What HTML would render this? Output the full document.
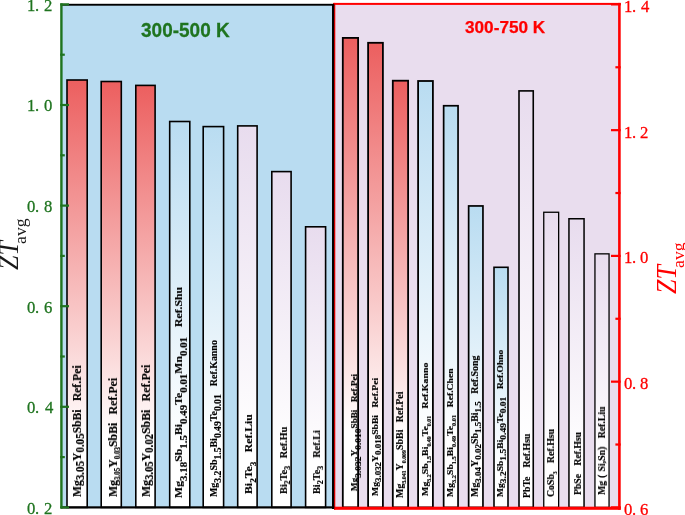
<!DOCTYPE html>
<html><head><meta charset="utf-8"><style>
html,body{margin:0;padding:0;background:#fff}
body{width:685px;height:515px;overflow:hidden;position:relative}
.a{position:absolute;will-change:transform}
.tl{font-family:"Liberation Serif",serif;font-size:17.2px;line-height:17px;white-space:nowrap;width:30px;height:17px;-webkit-text-stroke:0.3px}
.tl span{position:absolute;top:0;transform:scaleX(0.97);transform-origin:0 0}
.tt{font-family:"Liberation Sans",sans-serif;font-weight:bold;white-space:nowrap;line-height:1;-webkit-text-stroke:0.25px}
.yt{font-family:"Liberation Serif",serif;font-size:28.5px;line-height:26px;white-space:nowrap;transform-origin:0 0;transform:rotate(-90deg)}
.yt i{display:inline-block;transform:scaleX(0.91);transform-origin:0 0}
.yt .avg{font-size:17.6px;position:relative;top:7.5px;margin-left:-5.6px}
.lb{font-family:"Liberation Serif",serif;font-weight:bold;white-space:nowrap;transform-origin:0 0;color:#000;-webkit-text-stroke:0.2px #000}
</style></head><body>
<svg class="a" style="left:0;top:0" width="685" height="515" viewBox="0 0 685 515"><defs><linearGradient id="gr" x1="0" y1="0" x2="0" y2="1"><stop offset="0" stop-color="#ec5f5f"/><stop offset="0.84" stop-color="#fff"/></linearGradient><linearGradient id="gb" x1="0" y1="0" x2="0" y2="1"><stop offset="0" stop-color="#b9dcf1"/><stop offset="0.84" stop-color="#fff"/></linearGradient><linearGradient id="gl" x1="0" y1="0" x2="0" y2="1"><stop offset="0" stop-color="#e8dcee"/><stop offset="0.84" stop-color="#fff"/></linearGradient></defs><rect x="62" y="5" width="271" height="502" fill="#b9dcf1"/><rect x="334" y="4" width="285" height="503" fill="#e9ddee"/><rect x="67.00" y="80.00" width="20.20" height="427.40" fill="url(#gr)" stroke="#000" stroke-width="1.6"/><rect x="101.20" y="81.50" width="20.10" height="425.90" fill="url(#gr)" stroke="#000" stroke-width="1.6"/><rect x="135.80" y="85.40" width="19.30" height="422.00" fill="url(#gr)" stroke="#000" stroke-width="1.6"/><rect x="169.70" y="121.50" width="20.10" height="385.90" fill="url(#gb)" stroke="#000" stroke-width="1.6"/><rect x="203.20" y="126.60" width="20.40" height="380.80" fill="url(#gb)" stroke="#000" stroke-width="1.6"/><rect x="237.70" y="125.90" width="19.40" height="381.50" fill="url(#gl)" stroke="#000" stroke-width="1.6"/><rect x="271.80" y="171.60" width="19.30" height="335.80" fill="url(#gl)" stroke="#000" stroke-width="1.6"/><rect x="305.60" y="226.80" width="20.00" height="280.60" fill="url(#gl)" stroke="#000" stroke-width="1.6"/><rect x="342.80" y="37.90" width="15.30" height="469.50" fill="url(#gr)" stroke="#000" stroke-width="1.8"/><rect x="368.10" y="42.80" width="14.80" height="464.60" fill="url(#gr)" stroke="#000" stroke-width="1.8"/><rect x="392.80" y="80.70" width="15.30" height="426.70" fill="url(#gr)" stroke="#000" stroke-width="1.8"/><rect x="418.10" y="81.00" width="14.80" height="426.40" fill="url(#gb)" stroke="#000" stroke-width="1.8"/><rect x="443.65" y="105.75" width="14.40" height="401.65" fill="url(#gb)" stroke="#000" stroke-width="1.7"/><rect x="468.65" y="205.95" width="14.30" height="301.45" fill="url(#gb)" stroke="#000" stroke-width="1.7"/><rect x="494.00" y="267.30" width="14.00" height="240.10" fill="url(#gb)" stroke="#000" stroke-width="1.6"/><rect x="519.00" y="90.90" width="14.25" height="416.50" fill="url(#gl)" stroke="#000" stroke-width="1.6"/><rect x="543.75" y="212.25" width="14.90" height="295.15" fill="url(#gl)" stroke="#000" stroke-width="1.3"/><rect x="568.95" y="218.75" width="15.10" height="288.65" fill="url(#gl)" stroke="#000" stroke-width="1.5"/><rect x="594.95" y="253.85" width="14.10" height="253.55" fill="url(#gl)" stroke="#000" stroke-width="1.3"/><rect x="333.00" y="2.90" width="287.70" height="2.00" fill="#ff0000"/><rect x="618.10" y="2.90" width="2.60" height="506.90" fill="#ff0000"/><rect x="334.00" y="506.70" width="286.70" height="3.10" fill="#ff0000"/><rect x="334.00" y="2.90" width="1.30" height="506.90" fill="#ff0000"/><rect x="61.00" y="3.80" width="273.20" height="1.90" fill="#000"/><rect x="61.00" y="506.30" width="273.20" height="2.20" fill="#000"/><rect x="332.00" y="4.00" width="2.20" height="505.00" fill="#000"/><rect x="60.20" y="3.40" width="2.40" height="505.20" fill="#1f741f"/><rect x="60.20" y="506.30" width="8.80" height="2.20" fill="#1f741f"/><rect x="60.20" y="456.00" width="4.60" height="2.20" fill="#1f741f"/><rect x="60.20" y="405.70" width="8.80" height="2.20" fill="#1f741f"/><rect x="60.20" y="355.40" width="4.60" height="2.20" fill="#1f741f"/><rect x="60.20" y="305.10" width="8.80" height="2.20" fill="#1f741f"/><rect x="60.20" y="254.80" width="4.60" height="2.20" fill="#1f741f"/><rect x="60.20" y="204.50" width="8.80" height="2.20" fill="#1f741f"/><rect x="60.20" y="154.20" width="4.60" height="2.20" fill="#1f741f"/><rect x="60.20" y="103.90" width="8.80" height="2.20" fill="#1f741f"/><rect x="60.20" y="53.60" width="4.60" height="2.20" fill="#1f741f"/><rect x="60.20" y="3.30" width="8.80" height="2.20" fill="#1f741f"/><rect x="611.00" y="506.30" width="9.70" height="2.20" fill="#ff0000"/><rect x="615.40" y="443.42" width="5.30" height="2.20" fill="#ff0000"/><rect x="611.00" y="380.55" width="9.70" height="2.20" fill="#ff0000"/><rect x="615.40" y="317.67" width="5.30" height="2.20" fill="#ff0000"/><rect x="611.00" y="254.80" width="9.70" height="2.20" fill="#ff0000"/><rect x="615.40" y="191.92" width="5.30" height="2.20" fill="#ff0000"/><rect x="611.00" y="129.05" width="9.70" height="2.20" fill="#ff0000"/><rect x="615.40" y="66.17" width="5.30" height="2.20" fill="#ff0000"/><rect x="611.00" y="3.30" width="9.70" height="2.20" fill="#ff0000"/></svg>
<div class="a tl" style="left:27.10px;top:499.83px;color:#1f741f"><span style="left:-0.40px">0</span><span style="left:8.13px">.</span><span style="left:17.20px">2</span></div>
<div class="a tl" style="left:27.10px;top:399.23px;color:#1f741f"><span style="left:-0.40px">0</span><span style="left:8.13px">.</span><span style="left:17.50px">4</span></div>
<div class="a tl" style="left:27.10px;top:298.63px;color:#1f741f"><span style="left:-0.40px">0</span><span style="left:8.13px">.</span><span style="left:17.20px">6</span></div>
<div class="a tl" style="left:27.10px;top:198.03px;color:#1f741f"><span style="left:-0.40px">0</span><span style="left:8.13px">.</span><span style="left:16.78px">8</span></div>
<div class="a tl" style="left:27.10px;top:97.43px;color:#1f741f"><span style="left:-0.05px">1</span><span style="left:8.13px">.</span><span style="left:17.30px">0</span></div>
<div class="a tl" style="left:27.10px;top:-3.17px;color:#1f741f"><span style="left:-0.05px">1</span><span style="left:8.13px">.</span><span style="left:17.20px">2</span></div>
<div class="a tl" style="left:624.10px;top:500.83px;color:#ff0000"><span style="left:-0.40px">0</span><span style="left:7.63px">.</span><span style="left:16.20px">6</span></div>
<div class="a tl" style="left:624.10px;top:375.08px;color:#ff0000"><span style="left:-0.40px">0</span><span style="left:7.63px">.</span><span style="left:15.78px">8</span></div>
<div class="a tl" style="left:624.10px;top:249.33px;color:#ff0000"><span style="left:-0.15px">1</span><span style="left:7.63px">.</span><span style="left:16.30px">0</span></div>
<div class="a tl" style="left:624.10px;top:123.58px;color:#ff0000"><span style="left:-0.15px">1</span><span style="left:7.63px">.</span><span style="left:16.20px">2</span></div>
<div class="a tl" style="left:624.10px;top:-2.17px;color:#ff0000"><span style="left:-0.15px">1</span><span style="left:7.63px">.</span><span style="left:16.50px">4</span></div>
<div class="a tt" style="left:140.6px;top:20.2px;font-size:19px;color:#1f741f;transform:scaleY(1.07);transform-origin:0 0">300-500 K</div>
<div class="a tt" style="left:465.4px;top:18.7px;font-size:17.2px;color:#ff0000">300-750 K</div>
<div class="a yt" style="left:-3.6px;top:269.8px;color:#1a1a1a"><i>ZT</i><span class="avg">avg</span></div>
<div class="a yt" style="left:653.8px;top:293.5px;color:#ff0000"><i>ZT</i><span class="avg">avg</span></div>
<div class="a lb" style="left:71.22px;top:497.10px;font-size:12.4px;line-height:12.4px;transform:rotate(-90deg) scaleX(0.9339)">Mg<span style="font-size:11.8px;position:relative;top:3.0px">3.05</span>Y<span style="font-size:11.8px;position:relative;top:3.0px">0.05</span>SbBi<span style="display:inline-block;width:9px"></span>Ref.Pei</div>
<div class="a lb" style="left:106.65px;top:497.10px;font-size:12.8px;line-height:12.8px;transform:rotate(-90deg) scaleX(0.9251)">Mg<span style="font-size:7.5px;position:relative;top:3.2px">3.05</span>Y<span style="font-size:7.5px;position:relative;top:3.2px">0.03</span>SbBi<span style="display:inline-block;width:9px"></span>Ref.Pei</div>
<div class="a lb" style="left:139.75px;top:496.60px;font-size:12.8px;line-height:12.8px;transform:rotate(-90deg) scaleX(0.9264)">Mg<span style="font-size:11.5px;position:relative;top:2.6px">3.05</span>Y<span style="font-size:11.5px;position:relative;top:2.6px">0.02</span>SbBi<span style="display:inline-block;width:9px"></span>Ref.Pei</div>
<div class="a lb" style="left:172.50px;top:497.50px;font-size:10.8px;line-height:10.8px;transform:rotate(-90deg) scaleX(1.0912)">Mg<span style="font-size:10.0px;position:relative;top:4.5px">3.18</span>Sb<span style="font-size:10.0px;position:relative;top:4.5px">1.5</span>Bi<span style="font-size:10.0px;position:relative;top:4.5px">0.49</span>Te<span style="font-size:10.0px;position:relative;top:4.5px">0.01</span>Mn<span style="font-size:10.0px;position:relative;top:4.5px">0.01</span><span style="display:inline-block;width:9px"></span>Ref.Shu</div>
<div class="a lb" style="left:209.26px;top:496.60px;font-size:9.9px;line-height:9.9px;transform:rotate(-90deg) scaleX(1.0050)">Mg<span style="font-size:9.6px;position:relative;top:3.6px">3.2</span>Sb<span style="font-size:9.6px;position:relative;top:3.6px">1.5</span>Bi<span style="font-size:9.6px;position:relative;top:3.6px">0.49</span>Te<span style="font-size:9.6px;position:relative;top:3.6px">0.01</span><span style="display:inline-block;width:8px"></span>Ref.Kanno</div>
<div class="a lb" style="left:242.53px;top:493.50px;font-size:11.2px;line-height:11.2px;transform:rotate(-90deg) scaleX(1.0477)">Bi<span style="font-size:8.8px;position:relative;top:3.6px">2</span>Te<span style="font-size:8.8px;position:relative;top:3.6px">3</span><span style="display:inline-block;width:9px"></span>Ref.Liu</div>
<div class="a lb" style="left:277.62px;top:493.50px;font-size:10.7px;line-height:10.7px;transform:rotate(-90deg) scaleX(0.9545)">Bi<span style="font-size:8.5px;position:relative;top:3.4px">2</span>Te<span style="font-size:8.5px;position:relative;top:3.4px">3</span><span style="display:inline-block;width:8px"></span>Ref.Hu</div>
<div class="a lb" style="left:312.09px;top:493.50px;font-size:10.3px;line-height:10.3px;transform:rotate(-90deg) scaleX(0.9942)">Bi<span style="font-size:8.2px;position:relative;top:3.4px">2</span>Te<span style="font-size:8.2px;position:relative;top:3.4px">3</span><span style="display:inline-block;width:8px"></span>Ref.Li</div>
<div class="a lb" style="left:350.26px;top:491.10px;font-size:8.2px;line-height:8.2px;transform:rotate(-90deg) scaleX(1.1077)">Mg<span style="font-size:8.6px;position:relative;top:4.0px">3.032</span>Y<span style="font-size:8.6px;position:relative;top:4.0px">0.010</span>SbBi<span style="display:inline-block;width:7px"></span>Ref.Pei</div>
<div class="a lb" style="left:371.39px;top:496.00px;font-size:9.2px;line-height:9.2px;transform:rotate(-90deg) scaleX(1.0507)">Mg<span style="font-size:8.5px;position:relative;top:3.0px">3.032</span>Y<span style="font-size:8.5px;position:relative;top:3.0px">0.018</span>SbBi<span style="display:inline-block;width:7px"></span>Ref.Pei</div>
<div class="a lb" style="left:396.45px;top:498.00px;font-size:9.4px;line-height:9.4px;transform:rotate(-90deg) scaleX(1.0621)">Mg<span style="font-size:5.5px;position:relative;top:3.0px">3.041</span>Y<span style="font-size:5.5px;position:relative;top:3.0px">0.009</span>SbBi<span style="display:inline-block;width:7px"></span>Ref.Pei</div>
<div class="a lb" style="left:421.29px;top:495.60px;font-size:9.2px;line-height:9.2px;transform:rotate(-90deg) scaleX(1.0734)">Mg<span style="font-size:5.5px;position:relative;top:3.0px">3.2</span>Sb<span style="font-size:5.5px;position:relative;top:3.0px">1.5</span>Bi<span style="font-size:5.5px;position:relative;top:3.0px">0.49</span>Te<span style="font-size:5.5px;position:relative;top:3.0px">0.01</span><span style="display:inline-block;width:7px"></span>Ref.Kanno</div>
<div class="a lb" style="left:446.22px;top:496.60px;font-size:9.0px;line-height:9.0px;transform:rotate(-90deg) scaleX(1.0713)">Mg<span style="font-size:6.0px;position:relative;top:3.0px">3.2</span>Sb<span style="font-size:6.0px;position:relative;top:3.0px">1.5</span>Bi<span style="font-size:6.0px;position:relative;top:3.0px">0.49</span>Te<span style="font-size:6.0px;position:relative;top:3.0px">0.01</span><span style="display:inline-block;width:7px"></span>Ref.Chen</div>
<div class="a lb" style="left:470.85px;top:496.60px;font-size:9.4px;line-height:9.4px;transform:rotate(-90deg) scaleX(1.0568)">Mg<span style="font-size:8.5px;position:relative;top:3.0px">3.04</span>Y<span style="font-size:8.5px;position:relative;top:3.0px">0.02</span>Sb<span style="font-size:8.5px;position:relative;top:3.0px">1.5</span>Bi<span style="font-size:8.5px;position:relative;top:3.0px">1.5</span><span style="display:inline-block;width:7px"></span>Ref.Song</div>
<div class="a lb" style="left:496.26px;top:496.60px;font-size:8.8px;line-height:8.8px;transform:rotate(-90deg) scaleX(1.0829)">Mg<span style="font-size:8.8px;position:relative;top:3.0px">3.2</span>Sb<span style="font-size:8.8px;position:relative;top:3.0px">1.5</span>Bi<span style="font-size:8.8px;position:relative;top:3.0px">0.49</span>Te<span style="font-size:8.8px;position:relative;top:3.0px">0.01</span><span style="display:inline-block;width:7px"></span>Ref.Ohno</div>
<div class="a lb" style="left:522.28px;top:497.50px;font-size:9.8px;line-height:9.8px;transform:rotate(-90deg) scaleX(0.9972)">PbTe<span style="display:inline-block;width:9px"></span>Ref.Hsu</div>
<div class="a lb" style="left:546.06px;top:496.90px;font-size:10.5px;line-height:10.5px;transform:rotate(-90deg) scaleX(0.9319)">CoSb<span style="font-size:6.0px;position:relative;top:3.0px">3</span><span style="display:inline-block;width:9px"></span>Ref.Hsu</div>
<div class="a lb" style="left:573.19px;top:495.20px;font-size:10.3px;line-height:10.3px;transform:rotate(-90deg) scaleX(0.9403)">PbSe<span style="display:inline-block;width:9px"></span>Ref.Hsu</div>
<div class="a lb" style="left:597.09px;top:495.20px;font-size:10.3px;line-height:10.3px;transform:rotate(-90deg) scaleX(0.9490)">Mg<span style="display:inline-block;width:3px"></span>(<span style="display:inline-block;width:3.5px"></span>Si,Sn)<span style="display:inline-block;width:9px"></span>Ref.Liu</div>
</body></html>
